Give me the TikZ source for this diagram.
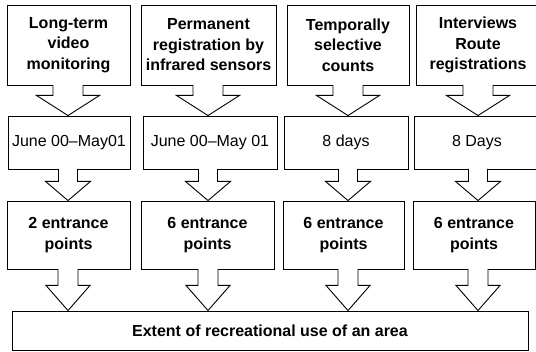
\documentclass[tikz,border=0pt]{standalone}
\usepackage{fontspec}
\setmainfont{Liberation Sans}
\usetikzlibrary{calc}

% block arrow: column, from node, to node, stem half width, head half width, stem length
\newcommand{\blockarrow}[6]{%
  \path[arrowbody] ($(#1 |- #2.south)+(-#4,-0.6)$) -- ($(#1 |- #2.south)+(-#4,#6)$)
    -- ($(#1 |- #2.south)+(-#5,#6)$) -- (#1 |- #3.north)
    -- ($(#1 |- #2.south)+(#5,#6)$) -- ($(#1 |- #2.south)+(#4,#6)$)
    -- ($(#1 |- #2.south)+(#4,-0.6)$);}

\begin{document}
\begin{tikzpicture}[x=1pt, y=-1pt,
    box/.style={draw, line width=0.9pt, fill=white, inner sep=0pt, align=center,
      font=\fontsize{16}{20.5}\selectfont},
    method/.style={box, font=\fontsize{16}{20.5}\selectfont\bfseries, minimum height=80pt},
    period/.style={box, minimum height=53pt},
    points/.style={box, font=\fontsize{16}{20.5}\selectfont\bfseries, minimum height=68pt},
    arrowbody/.style={draw, line width=0.9pt, fill=white}]
  \useasboundingbox (0,0) rectangle (536,352);
  \clip (0,0) rectangle (536,352);

  % columns of the arrows
  \coordinate (k1) at (68,0);
  \coordinate (k2) at (208,0);
  \coordinate (k3) at (348,0);
  \coordinate (k4) at (478,0);

  % methods
  \node[method, minimum width=123pt] (t1) at (68.5,45) {Long-term\\video\\monitoring};
  \node[method, minimum width=135pt] (t2) at (208.5,45) {Permanent\\registration by\\infrared sensors};
  \node[method, minimum width=122pt] (t3) at (348,45) {Temporally\\selective\\counts};
  \node[method, minimum width=124pt] (t4) at (478,45) {Interviews\\Route\\registrations};

  % periods
  \node[period, minimum width=122pt] (m1) at (69,142.5) {June 00--May01};
  \node[period, minimum width=134pt] (m2) at (210,142.5) {June 00--May 01};
  \node[period, minimum width=124pt] (m3) at (346,142.5) {8 days};
  \node[period, minimum width=126pt] (m4) at (477,142.5) {8 Days};

  % entrance points
  \node[points, minimum width=123pt] (b1) at (68.5,235) {2 entrance\\points};
  \node[points, minimum width=133pt] (b2) at (207.5,235) {6 entrance\\points};
  \node[points, minimum width=121pt] (b3) at (343.5,235) {6 entrance\\points};
  \node[points, minimum width=122pt] (b4) at (474,235) {6 entrance\\points};

  % result
  \node[box, font=\fontsize{16}{20.5}\selectfont\bfseries, minimum width=516pt, minimum height=39pt]
    (res) at (270,330.5) {Extent of recreational use of an area};

  % arrows
  \foreach \i in {1,...,4} {
    \blockarrow{k\i}{t\i}{m\i}{15}{31.5}{10}
    \blockarrow{k\i}{m\i}{b\i}{9.5}{22.5}{12}
    \blockarrow{k\i}{b\i}{res}{10}{22}{16}
  }
\end{tikzpicture}
\end{document}
